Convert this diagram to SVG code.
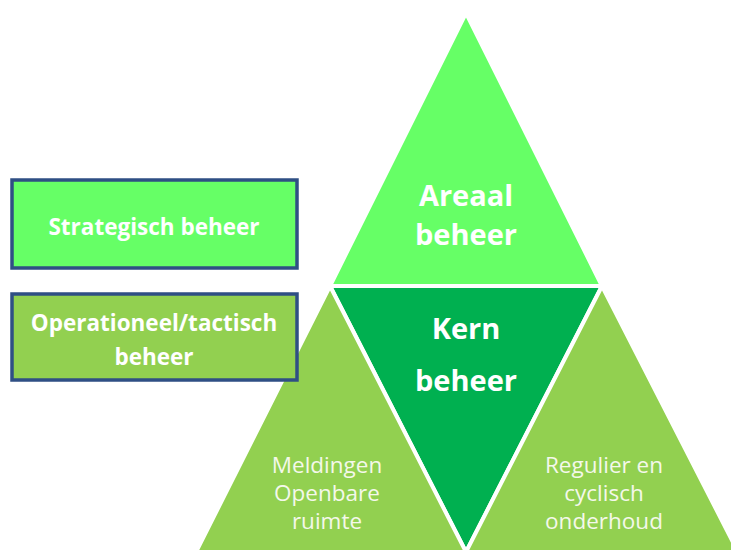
<svg xmlns="http://www.w3.org/2000/svg" width="731" height="550" viewBox="0 0 731 550">
<style>
.tri{stroke:#ffffff;stroke-width:4;stroke-linejoin:miter}
.box{stroke:#2f4f84;stroke-width:3.5}
.big{font-family:"Open Sans","Liberation Sans",sans-serif;font-weight:bold;fill:#ffffff;text-anchor:middle;font-size:29px}
.lbl{font-family:"Open Sans","Liberation Sans",sans-serif;font-weight:bold;fill:#ffffff;text-anchor:middle;font-size:22.5px}
.small{font-family:"Open Sans","Liberation Sans",sans-serif;fill:#f4f8ea;text-anchor:middle;font-size:22.5px}
</style>
<rect width="731" height="550" fill="#ffffff"/>
<g id="areaal">
<polygon class="tri" points="466,13 330,286 602,286" fill="#66ff66"/>
<text class="big" x="466" y="206">Areaal</text>
<text class="big" x="466" y="245">beheer</text>
</g>
<g id="kern">
<polygon class="tri" points="330,286 602,286 466,552" fill="#00b050"/>
<text class="big" x="466" y="339">Kern</text>
<text class="big" x="466" y="391">beheer</text>
</g>
<g id="meldingen">
<polygon class="tri" points="330,286 196,552 466,552" fill="#92d050"/>
<text class="small" x="327" y="473">Meldingen</text>
<text class="small" x="327" y="501">Openbare</text>
<text class="small" x="327" y="529">ruimte</text>
</g>
<g id="regulier">
<polygon class="tri" points="602,286 466,552 738,552" fill="#92d050"/>
<text class="small" x="604" y="473">Regulier en</text>
<text class="small" x="604" y="501">cyclisch</text>
<text class="small" x="604" y="529">onderhoud</text>
</g>
<g id="strategisch">
<rect class="box" x="12" y="180" width="285" height="88" fill="#66ff66"/>
<text class="lbl" x="154" y="235">Strategisch beheer</text>
</g>
<g id="operationeel">
<rect class="box" x="12" y="294" width="285" height="86" fill="#92d050"/>
<text class="lbl" x="154" y="331">Operationeel/tactisch</text>
<text class="lbl" x="154" y="365">beheer</text>
</g>
<g id="connectors"></g>
</svg>
